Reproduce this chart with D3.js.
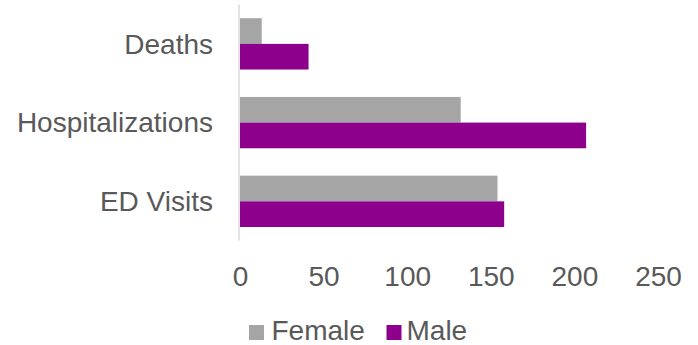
<!DOCTYPE html>
<html>
<head>
<meta charset="utf-8">
<script src="https://cdn.jsdelivr.net/npm/d3@7"></script>
<style>
  html, body { margin: 0; padding: 0; background: #ffffff; }
  svg { display: block; }
  text { font-family: "Liberation Sans", Arial, sans-serif; fill: #595959; }
</style>
</head>
<body>
<svg id="chart" width="698" height="345"></svg>
<script>
// Counts by outcome and sex
const categories = ["Deaths", "Hospitalizations", "ED Visits"];
const seriesNames = ["Female", "Male"];
const femaleValues = [13, 132, 154];
const maleValues = [41, 207, 158];
const xTicks = [0, 50, 100, 150, 200, 250];
const colors = ["#A5A5A5", "#8C008C"];

const svg = d3.select("#chart");
const plotLeft = 240, plotRight = 658, plotTop = 4.5, plotBottom = 240.7;

const x = d3.scaleLinear().domain([0, 250]).range([plotLeft, plotRight]);
const y = d3.scaleBand().domain(categories).range([plotTop, plotBottom])
  .paddingInner(0.348).paddingOuter(0.174);
const ySub = d3.scaleBand().domain(seriesNames).range([0, y.bandwidth()]);

const rows = categories.map((c, i) => ({
  category: c,
  values: [
    { series: "Female", value: femaleValues[i] },
    { series: "Male", value: maleValues[i] }
  ]
}));

// Bars
const groups = svg.append("g").selectAll("g").data(rows).join("g")
  .attr("transform", d => `translate(0,${y(d.category)})`);
groups.selectAll("rect").data(d => d.values).join("rect")
  .attr("x", x(0))
  .attr("y", d => ySub(d.series))
  .attr("width", d => x(d.value) - x(0))
  .attr("height", ySub.bandwidth())
  .attr("fill", d => colors[seriesNames.indexOf(d.series)]);

// Vertical category axis line
svg.append("line")
  .attr("x1", x(0) - 1).attr("x2", x(0) - 1)
  .attr("y1", plotTop).attr("y2", plotBottom)
  .attr("stroke", "#D9D9D9").attr("stroke-width", 1.5);

// Category labels
const yAxis = d3.axisLeft(y).tickSize(0).tickPadding(27);
const yg = svg.append("g").attr("transform", `translate(${x(0)},0)`).call(yAxis);
yg.select(".domain").remove();
yg.selectAll("text")
  .style("font-size", "28px")
  .style("font-family", "'Liberation Sans', Arial, sans-serif")
  .attr("fill", "#595959")
  .attr("dy", "0.35em");

// Value axis tick labels
const xAxis = d3.axisBottom(x).tickValues(xTicks).tickSize(0).tickPadding(0);
const xg = svg.append("g").attr("transform", "translate(0,286)").call(xAxis);
xg.select(".domain").remove();
xg.selectAll("text")
  .style("font-size", "28px")
  .style("font-family", "'Liberation Sans', Arial, sans-serif")
  .attr("fill", "#595959")
  .attr("y", 0)
  .attr("dy", 0);

// Legend
const legendItems = [
  { name: "Female", sx: 249, tx: 271.5 },
  { name: "Male", sx: 386.5, tx: 406.5 }
];
const lg = svg.append("g");
lg.selectAll("rect").data(legendItems).join("rect")
  .attr("x", d => d.sx).attr("y", 325)
  .attr("width", 15).attr("height", 15)
  .attr("fill", d => colors[seriesNames.indexOf(d.name)]);
lg.selectAll("text").data(legendItems).join("text")
  .attr("x", d => d.tx).attr("y", 340)
  .style("font-size", "28px")
  .text(d => d.name);
</script>
</body>
</html>
